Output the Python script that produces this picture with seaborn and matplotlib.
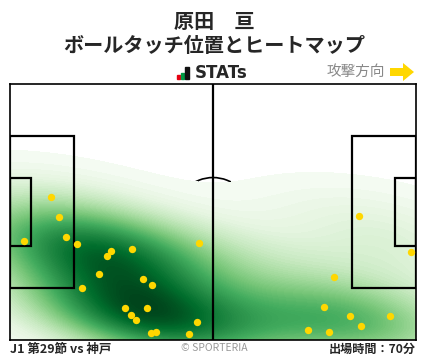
import numpy as np
import pandas as pd
import matplotlib
matplotlib.use("Agg")
import matplotlib.pyplot as plt
import seaborn as sns
from matplotlib.patches import Rectangle, Arc, FancyArrow

# ボールタッチ位置 (ピッチ座標: 105 x 68, 右方向へ攻撃)
touch_x = [10.6, 12.7, 14.6, 3.7, 17.4, 26.2, 25.2, 31.6, 48.9, 23.1,
           34.5, 36.8, 18.7, 29.8, 35.4, 31.4, 32.7, 36.5, 37.8, 46.3,
           48.4, 90.3, 103.8, 83.9, 81.3, 88.0, 90.8, 98.3, 77.1, 82.6]
touch_y = [37.9, 32.6, 27.3, 26.2, 25.4, 23.6, 22.2, 24.1, 25.7, 17.5,
           16.1, 14.5, 13.7, 8.4, 8.4, 6.6, 5.2, 1.8, 2.0, 1.5,
           4.7, 32.9, 23.3, 16.7, 8.7, 6.3, 3.6, 6.3, 2.6, 2.0]

player_name = "原田　亘"
chart_title = "ボールタッチ位置とヒートマップ"
match_label = "J1 第29節 vs 神戸"
minutes_label = "出場時間：70分"

df = pd.DataFrame({"x": touch_x, "y": touch_y})

sns.set_style("white")
plt.rcParams["font.family"] = ["Noto Sans CJK JP", "DejaVu Sans"]

W, H = 428, 359
fig = plt.figure(figsize=(W / 100, H / 100), dpi=100)
ax = fig.add_axes([10 / W, (H - 340) / H, 406 / W, 256 / H])

L, Wd = 105, 68

# センターサークル (ヒートマップの下)
ax.add_patch(Arc((L / 2, Wd / 2), 18.3 * 406 / 256 * 68 / 105, 18.3, lw=1.2, color="black", zorder=0.5))

sns.kdeplot(data=df, x="x", y="y", fill=True, cmap="Greens", levels=100,
            thresh=0.006, bw_adjust=1.2, clip=((0, L), (0, Wd)), gridsize=200, ax=ax, zorder=1)

lw = 1.6
# ハーフウェイライン
ax.plot([L / 2, L / 2], [0, Wd], color="black", lw=lw, zorder=3)
# ペナルティエリア
for x0, w in [(0, 16.5), (L - 16.5, 16.5)]:
    ax.add_patch(Rectangle((x0, Wd / 2 - 20.15), w, 40.3, fill=False, lw=lw, ec="black", zorder=3))
for x0, w in [(0, 5.5), (L - 5.5, 5.5)]:
    ax.add_patch(Rectangle((x0, Wd / 2 - 9.15), w, 18.3, fill=False, lw=lw, ec="black", zorder=3))

sns.scatterplot(data=df, x="x", y="y", color="#ffd700", s=28, linewidth=0, ax=ax, zorder=4)

ax.set_xlim(0, L)
ax.set_ylim(0, Wd)
ax.set_xticks([])
ax.set_yticks([])
ax.set_xlabel("")
ax.set_ylabel("")
for s in ax.spines.values():
    s.set_visible(True)
    s.set_color("black")
    s.set_linewidth(1.2)

# タイトル
fig.text(0.5, 1 - 21 / H, player_name, ha="center", va="center", fontsize=14.5, fontweight="bold")
fig.text(0.5, 1 - 46 / H, chart_title, ha="center", va="center", fontsize=14.5, fontweight="bold")

# STATs ロゴ
for x0, y0, h, c in [(177, 75, 4, "#e60012"), (181, 73, 6, "#009944"), (185, 67, 12, "#111111")]:
    fig.patches.append(Rectangle((x0 / W, 1 - (y0 + h) / H), (4 if c == "#111111" else 3) / W, h / H,
                                 transform=fig.transFigure, color=c))
fig.text(195 / W, 1 - 73 / H, "STATs", ha="left", va="center", fontsize=12, fontweight="bold",
         family="DejaVu Sans")

# 攻撃方向
fig.text(385 / W, 1 - 72 / H, "攻撃方向", ha="right", va="center", fontsize=10.5, color="#888888")
fig.patches.append(FancyArrow(390 / W, 1 - 72 / H, 13 / W, 0, width=8 / H, head_width=18 / H,
                              head_length=11 / W, length_includes_head=False,
                              transform=fig.transFigure, color="#ffd700", lw=0))

# フッター
fig.text(10 / W, 1 - 349 / H, match_label, ha="left", va="center", fontsize=9, fontweight="bold")
fig.text(0.5, 1 - 348 / H, "© SPORTERIA", ha="center", va="center", fontsize=7.5, color="#999999")
fig.text(416 / W, 1 - 349 / H, minutes_label, ha="right", va="center", fontsize=8.7, fontweight="bold")

fig.savefig("out.png", dpi=100)
